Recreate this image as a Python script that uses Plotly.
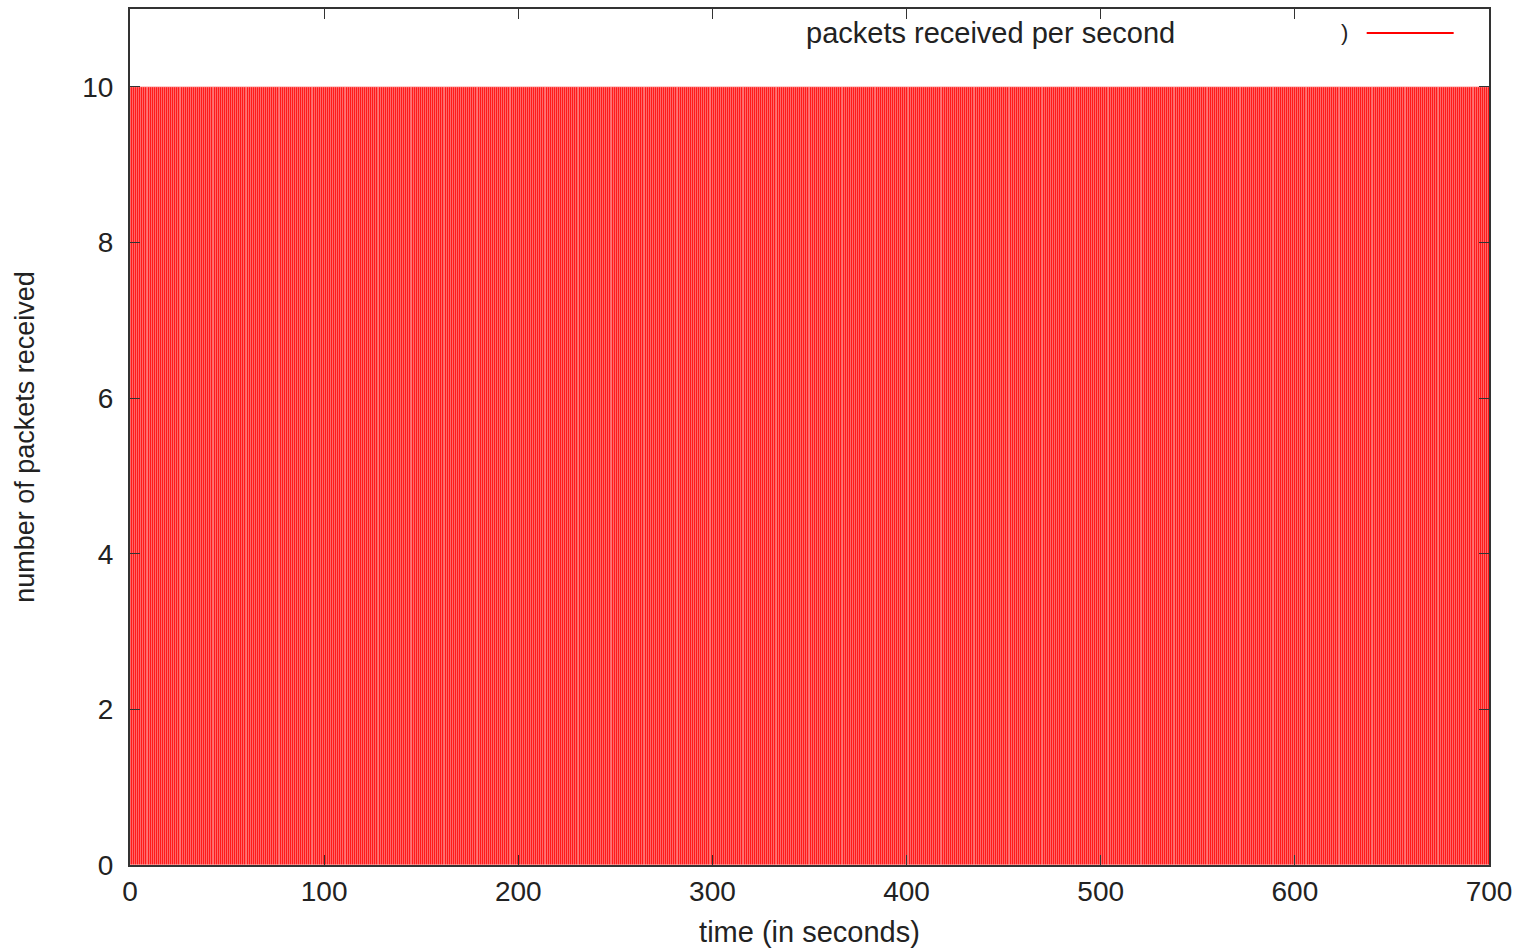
import plotly.graph_objects as go

# Data: packets received per second, one sample per second
times = list(range(0, 701))
packets = [10] * len(times)

x_ticks = [0, 100, 200, 300, 400, 500, 600, 700]
y_ticks = [0, 2, 4, 6, 8, 10]

series_name = "packets received per second"
FONT = "Liberation Sans, Arial, sans-serif"

fig = go.Figure()
fig.add_trace(go.Bar(
    x=times, y=packets, name=series_name,
    marker=dict(color="#ff0000", line=dict(width=0.3, color="#ffffff")),
    showlegend=False,
))

fig.update_layout(
    width=1536, height=949,
    margin=dict(l=130, r=47, t=9, b=84),
    paper_bgcolor="white", plot_bgcolor="white",
    bargap=0,
    font=dict(family=FONT, size=28, color="#222222"),
    showlegend=False,
)
fig.update_xaxes(
    range=[0, 700], tickvals=x_ticks, ticktext=[str(v) for v in x_ticks],
    ticks="inside", ticklen=10, tickwidth=1.2, tickcolor="#333333",
    showline=True, linecolor="#333333", linewidth=2, mirror="allticks",
    showgrid=False, zeroline=False, automargin=False,
    title=dict(text="time (in seconds)", font=dict(size=29), standoff=16),
    tickfont=dict(size=28),
)
fig.update_yaxes(
    range=[0, 11], tickvals=y_ticks, ticktext=[str(v) for v in y_ticks],
    ticks="inside", ticklen=10, tickwidth=1.2, tickcolor="#333333",
    showline=True, linecolor="#333333", linewidth=2, mirror="allticks",
    showgrid=False, zeroline=False, ticklabelstandoff=9, automargin=False,
    title=dict(text="number of packets received", font=dict(size=27), standoff=40),
    tickfont=dict(size=28),
)

# Legend drawn like the gnuplot key: text, then sample line on the right
fig.add_annotation(xref="paper", yref="paper", x=0.7704, y=0.972,
                   xanchor="right", yanchor="middle", showarrow=False,
                   text=series_name, font=dict(size=29, color="#222222"))
fig.add_annotation(xref="paper", yref="paper", x=0.894, y=0.972,
                   xanchor="center", yanchor="middle", showarrow=False,
                   text=")", font=dict(size=22, color="#222222"))
fig.add_shape(type="line", xref="paper", yref="paper",
              x0=0.910, x1=0.974, y0=0.972, y1=0.972,
              line=dict(color="#ff0000", width=2))

fig.write_html("out.html")
